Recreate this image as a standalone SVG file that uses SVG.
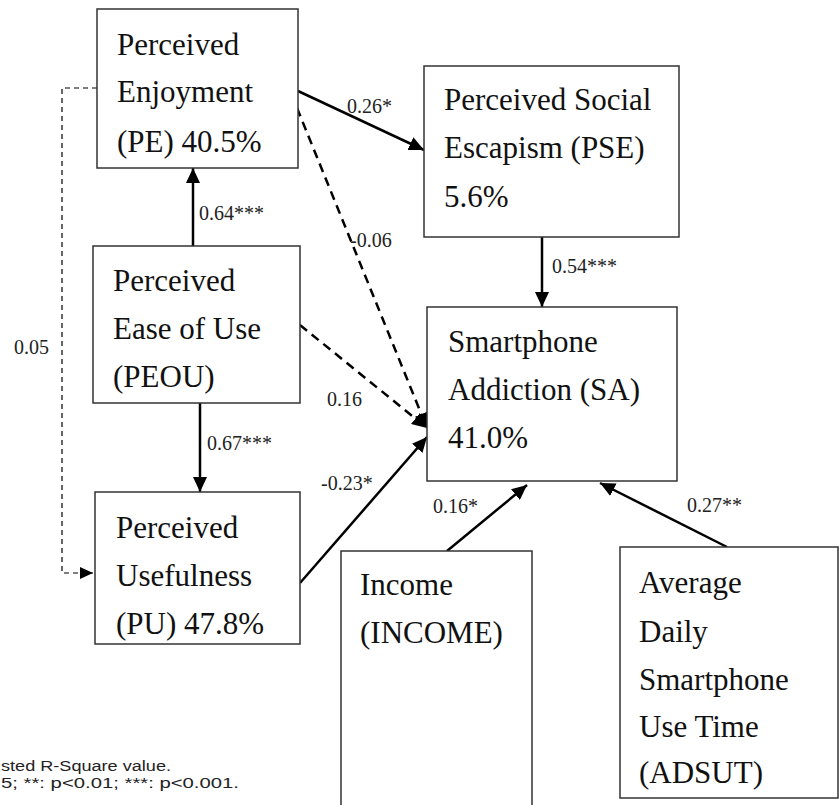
<svg xmlns="http://www.w3.org/2000/svg" width="839" height="805" viewBox="0 0 839 805">
<style>
.box{fill:#fff;stroke:#333;stroke-width:1.5}
.t{font-family:"Liberation Serif","Times New Roman",serif;font-size:31px;fill:#111}
.lb{font-family:"Liberation Serif","Times New Roman",serif;font-size:20px;fill:#222}
.fn{font-family:"Liberation Sans",Arial,sans-serif;font-size:14px;fill:#222}
.c{fill:none;stroke:#000;stroke-width:2.5}
.d{fill:none;stroke:#000;stroke-width:2.5;stroke-dasharray:9 6}
.dt{fill:none;stroke:#000;stroke-width:1.2;stroke-dasharray:5 4}
</style>
<defs>
<marker id="ah" markerUnits="userSpaceOnUse" markerWidth="16" markerHeight="14" refX="15" refY="7" orient="auto">
<path d="M0,0 L15,7 L0,14 z" fill="#000"/>
</marker>
<marker id="ahs" markerUnits="userSpaceOnUse" markerWidth="14" markerHeight="12" refX="13" refY="6" orient="auto">
<path d="M0,0 L13,6 L0,12 z" fill="#000"/>
</marker>
</defs>
<rect width="839" height="805" fill="#fff"/>
<g id="connectors">
<path class="dt" d="M97,88 H62 V573 H93" marker-end="url(#ahs)"/>
<path class="c" d="M298,91 L424,150" marker-end="url(#ah)"/>
<path class="c" d="M193,246 V168" marker-end="url(#ah)"/>
<path class="c" d="M200,403 V492" marker-end="url(#ah)"/>
<path class="d" d="M297,108 L427,428" marker-end="url(#ah)"/>
<path class="d" d="M300,325 L427,428" marker-end="url(#ah)"/>
<path class="c" d="M300,583 L427,437" marker-end="url(#ah)"/>
<path class="c" d="M542,237 V307" marker-end="url(#ah)"/>
<path class="c" d="M447,551 L527,485" marker-end="url(#ah)"/>
<path class="c" d="M727,547 L600,483" marker-end="url(#ah)"/>
<text class="lb" x="347" y="113">0.26*</text>
<text class="lb" x="199" y="220">0.64***</text>
<text class="lb" x="350" y="247">-0.06</text>
<text class="lb" x="14" y="354">0.05</text>
<text class="lb" x="327" y="406">0.16</text>
<text class="lb" x="207" y="450">0.67***</text>
<text class="lb" x="321" y="490">-0.23*</text>
<text class="lb" x="552" y="273">0.54***</text>
<text class="lb" x="433" y="513">0.16*</text>
<text class="lb" x="687" y="512">0.27**</text>
</g>
<g id="PE">
<rect class="box" x="97" y="9" width="201" height="159"/>
<text class="t" x="117" y="55">Perceived</text>
<text class="t" x="117" y="102">Enjoyment</text>
<text class="t" x="117" y="152">(PE) 40.5%</text>
</g>
<g id="PSE">
<rect class="box" x="424" y="66" width="255" height="171"/>
<text class="t" x="444" y="110">Perceived Social</text>
<text class="t" x="444" y="158">Escapism (PSE)</text>
<text class="t" x="444" y="207">5.6%</text>
</g>
<g id="PEOU">
<rect class="box" x="93" y="246" width="207" height="157"/>
<text class="t" x="113" y="291">Perceived</text>
<text class="t" x="113" y="339">Ease of Use</text>
<text class="t" x="113" y="387">(PEOU)</text>
</g>
<g id="PU">
<rect class="box" x="95" y="492" width="205" height="152"/>
<text class="t" x="116" y="538">Perceived</text>
<text class="t" x="116" y="586">Usefulness</text>
<text class="t" x="116" y="634">(PU) 47.8%</text>
</g>
<g id="SA">
<rect class="box" x="427" y="307" width="250" height="174"/>
<text class="t" x="448" y="352">Smartphone</text>
<text class="t" x="448" y="400">Addiction (SA)</text>
<text class="t" x="448" y="448">41.0%</text>
</g>
<g id="INCOME">
<rect class="box" x="341" y="551" width="191" height="270"/>
<text class="t" x="360" y="595">Income</text>
<text class="t" x="360" y="643">(INCOME)</text>
</g>
<g id="ADSUT">
<rect class="box" x="620" y="547" width="218" height="251"/>
<text class="t" x="639" y="593">Average</text>
<text class="t" x="639" y="642">Daily</text>
<text class="t" x="639" y="690">Smartphone</text>
<text class="t" x="639" y="737">Use Time</text>
<text class="t" x="639" y="783">(ADSUT)</text>
</g>
<g id="note">
<text class="fn" x="1" y="771" textLength="170" lengthAdjust="spacingAndGlyphs">sted R-Square value.</text>
<text class="fn" x="1" y="788" textLength="238" lengthAdjust="spacingAndGlyphs">5; **: p&lt;0.01; ***: p&lt;0.001.</text>
</g>
</svg>
